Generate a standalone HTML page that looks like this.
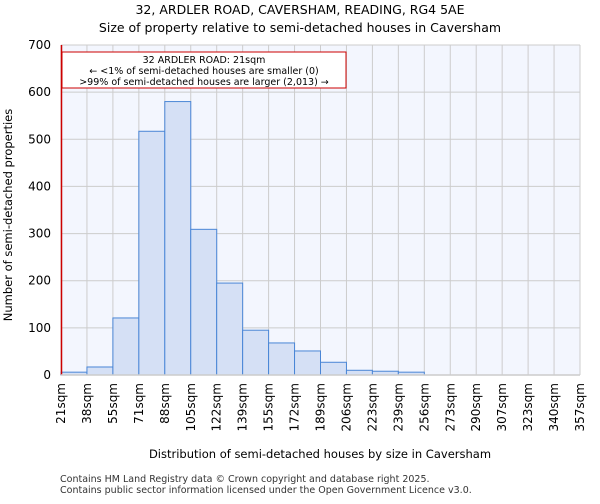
<!DOCTYPE html>
<html><head><meta charset="utf-8"><style>
body{margin:0;background:#fff;font-family:"DejaVu Sans","Liberation Sans",sans-serif;}
</style></head><body>
<svg width="600" height="500" xmlns="http://www.w3.org/2000/svg" font-family="DejaVu Sans, Liberation Sans, sans-serif">
<text x="300" y="14" text-anchor="middle" font-size="12.5">32, ARDLER ROAD, CAVERSHAM, READING, RG4 5AE</text>
<text x="300" y="32" text-anchor="middle" font-size="12.5">Size of property relative to semi-detached houses in Caversham</text>
<rect x="61" y="45" width="519" height="330" fill="#f3f6fe"/>
<g id="grid"></g>
<g id="bars"></g>
<line x1="61.5" y1="45" x2="61.5" y2="375" stroke="#cc0000" stroke-width="1.5"/>
<g id="yaxis"></g>
<g id="xaxis"></g>
<rect x="62" y="52" width="284" height="36" fill="#fff" stroke="#cc0000" stroke-width="1"/>
<text font-size="9.5" text-anchor="middle"><tspan x="204" y="63">32 ARDLER ROAD: 21sqm</tspan><tspan x="204" y="74">← &lt;1% of semi-detached houses are smaller (0)</tspan><tspan x="204" y="85">&gt;99% of semi-detached houses are larger (2,013) →</tspan></text>
<text x="320" y="458" text-anchor="middle" font-size="11.5">Distribution of semi-detached houses by size in Caversham</text>
<text transform="translate(12,215) rotate(-90)" text-anchor="middle" font-size="11.5">Number of semi-detached properties</text>
<text x="60" y="482" font-size="9.5" fill="#333">Contains HM Land Registry data © Crown copyright and database right 2025.</text>
<text x="60" y="493" font-size="9.5" fill="#333">Contains public sector information licensed under the Open Government Licence v3.0.</text>
</svg>
<script>
const categories=["21sqm","38sqm","55sqm","71sqm","88sqm","105sqm","122sqm","139sqm","155sqm","172sqm","189sqm","206sqm","223sqm","239sqm","256sqm","273sqm","290sqm","307sqm","323sqm","340sqm","357sqm"];
const values=[6,17,121,517,580,309,195,95,68,51,27,10,8,6,0,0,0,0,0,0];
const yTicks=[0,100,200,300,400,500,600,700];
const NS="http://www.w3.org/2000/svg";
const X0=61,X1=580,Y0=375,Y1=45,YMAX=700;
const bw=(X1-X0)/values.length;
const xs=i=>X0+i*bw;
const ys=v=>Y0-(v/YMAX)*(Y0-Y1);
function mk(t,a,p){const e=document.createElementNS(NS,t);for(const k in a)e.setAttribute(k,a[k]);p.appendChild(e);return e;}
const grid=document.getElementById('grid'),bars=document.getElementById('bars'),ya=document.getElementById('yaxis'),xa=document.getElementById('xaxis');
yTicks.forEach(t=>{
 const l=mk('line',{x1:X0,x2:X1,y1:ys(t),y2:ys(t),stroke:'#cccccc','stroke-width':1},grid);
 
 
 const tx=mk('text',{x:X0-10,y:ys(t)+4,'text-anchor':'end','font-size':12},ya);
 tx.textContent=t;
 
 
});
categories.forEach((c,i)=>{
 const x=xs(i);
 const l=mk('line',{x1:x,x2:x,y1:Y1,y2:Y0,stroke:'#cccccc','stroke-width':1},grid);
 
 
 const tx=mk('text',{transform:`translate(${x+4},${Y0+8}) rotate(-90)`,'text-anchor':'end','font-size':12},xa);
 tx.textContent=c;
 
 
});
values.forEach((v,i)=>{
 if(v<=0)return;
 const r=mk('rect',{x:xs(i),y:ys(v),width:bw,height:Y0-ys(v),fill:'#d5e0f5',stroke:'#4a86d6','stroke-width':1},bars);
 
 
});
const ax=mk('line',{x1:X0,x2:X1,y1:Y0,y2:Y0,stroke:'#cccccc','stroke-width':1.5},xa);


</script>
</body></html>
